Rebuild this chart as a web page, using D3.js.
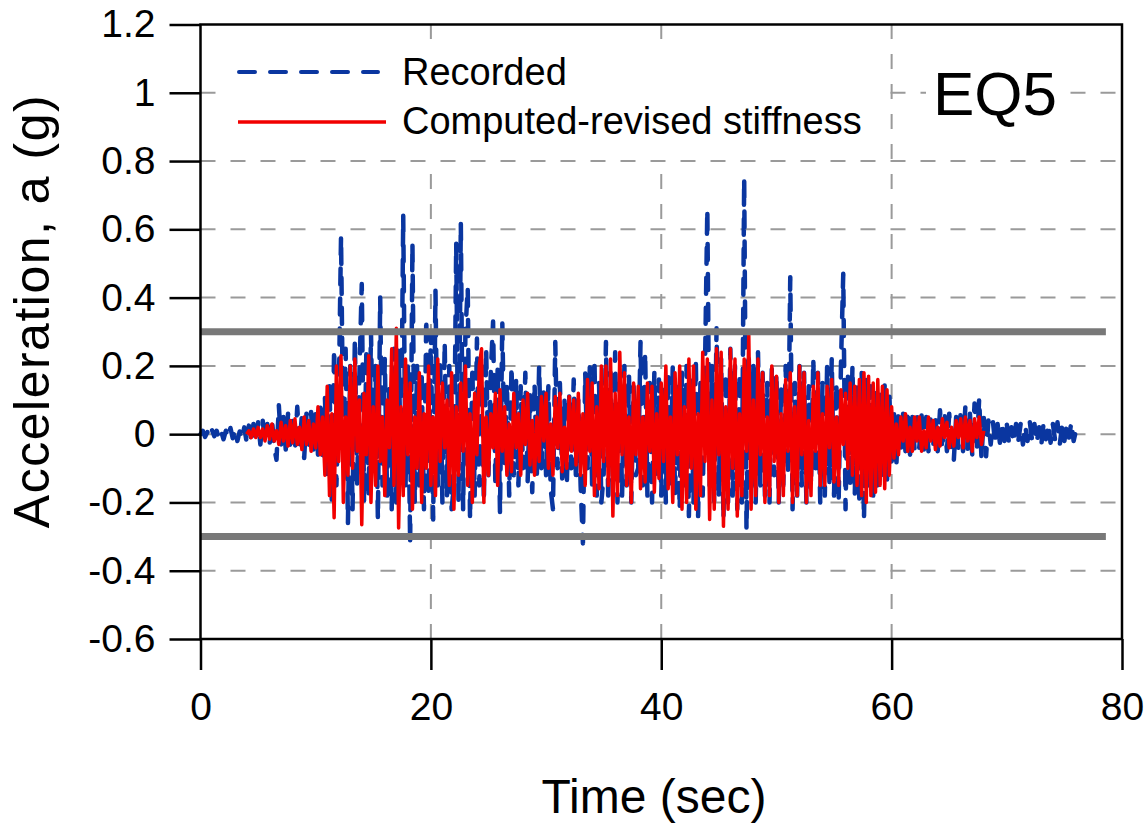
<!DOCTYPE html>
<html>
<head>
<meta charset="utf-8">
<title>EQ5 - Acceleration time history</title>
<script src="https://d3js.org/d3.v7.min.js"></script>
<style>
  body { margin: 0; background: #fff; }
  text { font-family: "Liberation Sans", Arial, sans-serif; fill: #000; }
</style>
</head>
<body>
<div id="chart"></div>
<script>
// axis ticks
var xTicks = [0, 20, 40, 60, 80];
var yTicks = [-0.6, -0.4, -0.2, 0, 0.2, 0.4, 0.6, 0.8, 1, 1.2];
var xGrid = [20, 40, 60];
var yGrid = [-0.4, -0.2, 0, 0.2, 0.4, 0.6, 0.8, 1];

// limit lines (g) and their time span (sec)
var limitLines = [0.3, -0.3];
var limitSpan = [0, 78.6];

var seriesNames = ["Recorded", "Computed-revised stiffness"];

// recorded acceleration (g), sampled every 0.2 s from t = 0
var recStart = 0, recStep = 0.2;
var recorded = [
  0, 0.01, -0.008, 0.006, -0.01,
  0.012, -0.006, 0.01, -0.012, 0.008,
  -0.015, 0.01, -0.01, 0.018, -0.012,
  0.015, -0.02, 0.008, -0.015, 0.02,
  -0.022, 0.025, -0.015, 0.03, -0.025,
  0.035, -0.03, 0.04, -0.02, 0.03,
  -0.03, 0.045, -0.04, -0.075, 0.085,
  -0.03, 0.05, -0.045, 0.06, -0.04,
  0.05, -0.05, 0.08, -0.035, 0.055,
  -0.07, 0.06, -0.05, 0.065, -0.045,
  0.07, -0.06, 0.09, -0.08, 0.11,
  -0.12, 0.15, -0.2, 0.25, -0.15,
  0.1, 0.58, -0.05, 0.25, -0.26,
  0.2, -0.22, 0.28, -0.15, 0.18,
  0.44, -0.2, 0.25, -0.18, 0.3,
  -0.12, 0.2, -0.25, 0.4, -0.15,
  0.22, -0.18, 0.15, -0.22, 0.25,
  -0.2, 0.25, -0.1, 0.64, -0.15,
  0.2, -0.32, 0.56, -0.2, 0.2,
  -0.15, 0.18, -0.22, 0.34, -0.18,
  0.3, -0.25, 0.42, -0.15, 0.22,
  -0.2, 0.27, -0.18, 0.2, -0.22,
  -0.15, 0.56, -0.2, 0.62, -0.22,
  0.3, 0.43, -0.25, 0.2, -0.18,
  0.28, -0.15, 0.2, -0.2, 0.25,
  -0.12, 0.18, 0.33, -0.15, 0.2,
  -0.23, 0.33, -0.1, 0.15, -0.18,
  0.2, -0.12, 0.16, -0.15, 0.14,
  -0.1, 0.18, -0.14, 0.12, -0.17,
  0.15, -0.12, 0.2, -0.1, 0.13,
  -0.12, 0.14, -0.16, -0.22, 0.27,
  -0.1, 0.15, -0.13, 0.1, -0.15,
  0.12, -0.1, 0.16, -0.14, 0.1,
  -0.15, -0.32, 0.18, -0.1, 0.2,
  -0.15, 0.22, -0.18, 0.15, -0.2,
  -0.12, 0.27, -0.2, 0.18, -0.15,
  0.24, -0.2, 0.15, -0.18, 0.2,
  -0.15, 0.17, -0.2, 0.14, -0.12,
  -0.1, 0.27, -0.15, 0.24, -0.18,
  0.15, -0.2, 0.18, -0.12, 0.16,
  -0.18, 0.14, -0.2, 0.18, -0.15,
  0.2, -0.18, 0.15, -0.22, 0.18,
  -0.15, 0.2, -0.24, 0.17, -0.2,
  0.22, -0.24, 0.15, -0.18, 0.2,
  0.66, -0.15, 0.2, -0.2, 0.31,
  -0.18, 0.22, -0.25, 0.18, -0.2,
  0.25, -0.18, 0.2, -0.22, 0.18,
  -0.2, 0.75, -0.28, 0.22, -0.15,
  0.2, -0.2, 0.24, -0.15, 0.18,
  -0.18, 0.15, -0.2, 0.2, -0.12,
  0.18, -0.2, 0.14, -0.15, 0.2,
  -0.12, 0.46, -0.22, 0.15, -0.18,
  0.2, -0.15, 0.18, -0.2, 0.14,
  -0.15, 0.22, -0.12, 0.18, -0.2,
  0.15, -0.18, 0.2, -0.14, 0.22,
  -0.18, 0.15, -0.2, 0.2, 0.47,
  -0.22, 0.18, -0.15, 0.2, -0.18,
  0.15, -0.2, 0.18, -0.25, 0.16,
  -0.15, 0.14, -0.18, 0.12, -0.15,
  0.13, -0.12, 0.15, -0.14, 0.12,
  -0.08, 0.07, -0.1, 0.06, -0.05,
  0.06, -0.05, 0.07, -0.06, 0.05,
  -0.05, 0.06, -0.04, 0.055, -0.045,
  0.05, -0.05, 0.06, -0.04, 0.05,
  -0.05, 0.07, -0.045, 0.06, -0.05,
  0.06, -0.06, -0.076, 0.05, -0.04,
  0.07, -0.05, 0.08, -0.045, 0.06,
  -0.06, 0.09, -0.05, 0.105, -0.07,
  0.05, -0.065, 0.04, -0.03, 0.035,
  -0.03, 0.03, -0.025, 0.035, -0.02,
  0.03, -0.03, 0.02, -0.025, 0.03,
  -0.02, 0.03, -0.03, 0.025, -0.02,
  0.035, -0.02, 0.03, -0.025, 0.02,
  -0.03, 0.035, -0.015, 0.03, -0.025,
  0.03, -0.02, 0.035, -0.03, 0.025,
  -0.02, 0.03, -0.01, 0.035, -0.02,
  0.01
];

// computed acceleration (g), sampled every 0.2 s from t = 4
var compStart = 4, compStep = 0.2;
var computed = [
  0, 0.01, -0.01, 0.015, -0.01,
  0.02, -0.01, 0.015, -0.02, 0.025,
  -0.015, 0.03, -0.02, 0.01, -0.03,
  0.035, -0.02, 0.025, -0.035, 0.04,
  -0.025, 0.045, -0.03, 0.02, -0.045,
  0.05, -0.03, 0.04, -0.05, 0.03,
  -0.04, 0.08, -0.06, 0.05, -0.12,
  0.14, -0.18, 0.06, -0.245, 0.2,
  -0.08, 0.23, -0.2, 0.05, -0.12,
  0.2, -0.1, 0.22, -0.05, 0.1,
  -0.265, 0.12, -0.06, 0.23, -0.2,
  0.08, -0.15, 0.2, -0.08, 0.05,
  -0.18, 0.1, -0.04, 0.25, -0.15,
  0.31, -0.275, 0.08, -0.18, 0.22,
  -0.06, 0.15, -0.22, 0.05, -0.1,
  0.18, -0.2, 0.06, -0.1, 0.2,
  -0.15, 0.05, -0.18, 0.22, -0.08,
  0.15, -0.04, 0.1, -0.15, 0.18,
  -0.22, 0.08, -0.12, 0.15, -0.05,
  0.2, -0.15, 0.06, -0.2, 0.12,
  -0.06, 0.2, 0.25, -0.2, 0.05,
  -0.12, 0.06, -0.04, 0.12, -0.15,
  0.13, -0.05, 0.08, -0.12, 0.03,
  -0.11, 0.12, -0.04, 0.06, -0.12,
  0.1, -0.03, 0.12, -0.09, 0.04,
  -0.12, 0.05, -0.08, 0.11, -0.02,
  0.12, -0.1, 0.03, -0.12, 0.11,
  -0.04, 0.12, -0.11, 0.02, -0.1,
  0.11, -0.05, 0.1, -0.09, 0.12,
  -0.12, 0.06, -0.15, 0.16, -0.05,
  0.15, -0.18, 0.08, -0.16, 0.2,
  -0.08, 0.2, -0.15, 0.22, -0.24,
  0.12, -0.18, 0.24, -0.06, 0.18,
  -0.15, 0.05, -0.2, 0.15, -0.06,
  0.14, -0.16, 0.05, -0.14, 0.15,
  -0.05, 0.14, -0.17, 0.06, -0.13,
  0.15, -0.08, 0.2, -0.16, 0.05,
  -0.2, 0.18, -0.06, 0.2, -0.22,
  0.08, -0.2, 0.22, -0.1, 0.2,
  -0.22, 0.06, -0.18, 0.24, -0.08,
  0.22, -0.25, 0.1, -0.22, 0.25,
  -0.06, 0.24, -0.27, 0.08, -0.22,
  0.25, -0.1, 0.22, -0.24, 0.06,
  -0.18, 0.22, -0.05, 0.29, -0.22,
  0.1, -0.18, 0.22, -0.06, 0.18,
  -0.2, 0.05, -0.18, 0.2, -0.08,
  0.17, -0.2, 0.06, -0.18, 0.16,
  -0.05, 0.18, -0.2, 0.08, -0.18,
  0.2, -0.06, 0.18, -0.2, 0.04,
  -0.18, 0.14, -0.05, 0.18, -0.15,
  0.06, -0.15, 0.14, -0.04, 0.16,
  -0.14, 0.05, -0.15, 0.13, -0.03,
  0.12, -0.1, 0.15, -0.12, 0.14,
  -0.15, 0.16, -0.18, 0.18, -0.2,
  0.17, -0.18, 0.15, -0.17, 0.16,
  -0.15, 0.14, -0.16, 0.13, -0.12,
  0.08, -0.07, 0.03, -0.06, 0.05,
  -0.02, 0.06, -0.05, 0.02, -0.05,
  0.05, -0.02, 0.05, -0.05, 0.01,
  -0.04, 0.05, -0.02, 0.04, -0.045,
  0.02, -0.035, 0.045, -0.01, 0.035,
  -0.04, 0.02, -0.035, 0.04, -0.01,
  0.045, -0.04, 0.05, -0.02, 0.04,
  -0.05, 0.045, -0.01, 0.05, -0.03,
  0.01
];

var W = 1144, H = 823;
var pLeft = 200.5, pRight = 1122, pTop = 24.5, pBottom = 639;

var svg = d3.select("#chart").append("svg")
  .attr("width", W).attr("height", H);

var x = d3.scaleLinear().domain([0, 80]).range([pLeft, pRight]);
var y = d3.scaleLinear().domain([-0.6, 1.2]).range([pBottom, pTop]);

function toPoints(vals, t0, dt) {
  return vals.map(function(v, i) { return { t: t0 + i * dt, a: v }; });
}
var recData = toPoints(recorded, recStart, recStep);
var compData = toPoints(computed, compStart, compStep);

// grid
svg.append("g").selectAll("line").data(yGrid).enter().append("line")
  .attr("x1", pLeft).attr("x2", pRight)
  .attr("y1", function(d) { return y(d); }).attr("y2", function(d) { return y(d); })
  .attr("stroke", "#9a9a9a").attr("stroke-width", 2)
  .attr("stroke-dasharray", "15,15");
svg.append("g").selectAll("line").data(xGrid).enter().append("line")
  .attr("y1", pBottom).attr("y2", pTop)
  .attr("x1", function(d) { return x(d); }).attr("x2", function(d) { return x(d); })
  .attr("stroke", "#9a9a9a").attr("stroke-width", 2)
  .attr("stroke-dasharray", "15,15");

var line = d3.line()
  .x(function(d) { return x(d.t); })
  .y(function(d) { return y(d.a); });

svg.append("path").datum(recData)
  .attr("d", line)
  .attr("fill", "none")
  .attr("stroke", "#0a36a0").attr("stroke-width", 4.5)
  .attr("stroke-linecap", "round").attr("stroke-linejoin", "round")
  .attr("stroke-dasharray", "16,14");

svg.append("path").datum(compData)
  .attr("d", line)
  .attr("fill", "none")
  .attr("stroke", "#f20000").attr("stroke-width", 3.5)
  .attr("stroke-linejoin", "round");

// +/- 0.3 g limit lines
svg.append("g").selectAll("line").data(limitLines).enter().append("line")
  .attr("x1", x(limitSpan[0])).attr("x2", x(limitSpan[1]))
  .attr("y1", function(d) { return y(d); }).attr("y2", function(d) { return y(d); })
  .attr("stroke", "#787878").attr("stroke-width", 7);

// frame
svg.append("rect")
  .attr("x", pLeft).attr("y", pTop)
  .attr("width", pRight - pLeft).attr("height", pBottom - pTop)
  .attr("fill", "none").attr("stroke", "#000").attr("stroke-width", 2.5);

// axes
var fmt = function(d) { return String(+d.toFixed(1)); };

var xAxis = svg.append("g")
  .attr("transform", "translate(0," + pBottom + ")")
  .call(d3.axisBottom(x).tickValues(xTicks).tickSize(31).tickPadding(22).tickFormat(fmt));
var yAxis = svg.append("g")
  .attr("transform", "translate(" + pLeft + ",0)")
  .call(d3.axisLeft(y).tickValues(yTicks).tickSize(31).tickPadding(14).tickFormat(fmt));

[xAxis, yAxis].forEach(function(a) {
  a.select(".domain").remove();
  a.selectAll(".tick line").attr("stroke", "#000").attr("stroke-width", 2.5);
  a.selectAll(".tick text")
    .style("font-family", "'Liberation Sans', Arial, sans-serif")
    .style("font-size", "39px").attr("fill", "#000");
});

// axis titles
svg.append("text")
  .attr("x", 654).attr("y", 813)
  .attr("text-anchor", "middle")
  .style("font-size", "48px")
  .text("Time (sec)");

svg.append("text")
  .attr("transform", "translate(49,311) rotate(-90)")
  .attr("text-anchor", "middle")
  .style("font-size", "50px")
  .style("letter-spacing", "1.5px")
  .text("Acceleration, a (g)");

// legend
var legend = svg.append("g");
legend.append("rect")
  .attr("x", 216).attr("y", 41).attr("width", 662).attr("height", 118)
  .attr("fill", "#fff");
legend.append("line")
  .attr("x1", 239).attr("x2", 378).attr("y1", 72).attr("y2", 72)
  .attr("stroke", "#0a36a0").attr("stroke-width", 4)
  .attr("stroke-linecap", "round").attr("stroke-dasharray", "16,15");
legend.append("line")
  .attr("x1", 238).attr("x2", 386).attr("y1", 122).attr("y2", 122)
  .attr("stroke", "#f20000").attr("stroke-width", 3.5);
legend.append("text").attr("x", 402).attr("y", 85)
  .style("font-size", "38px").text(seriesNames[0]);
legend.append("text").attr("x", 402).attr("y", 134)
  .style("font-size", "38px").text(seriesNames[1]);

// event label
svg.append("rect")
  .attr("x", 926).attr("y", 62).attr("width", 140).attr("height", 62)
  .attr("fill", "#fff");
svg.append("text")
  .attr("x", 933).attr("y", 115)
  .style("font-size", "62px")
  .text("EQ5");
</script>
</body>
</html>
